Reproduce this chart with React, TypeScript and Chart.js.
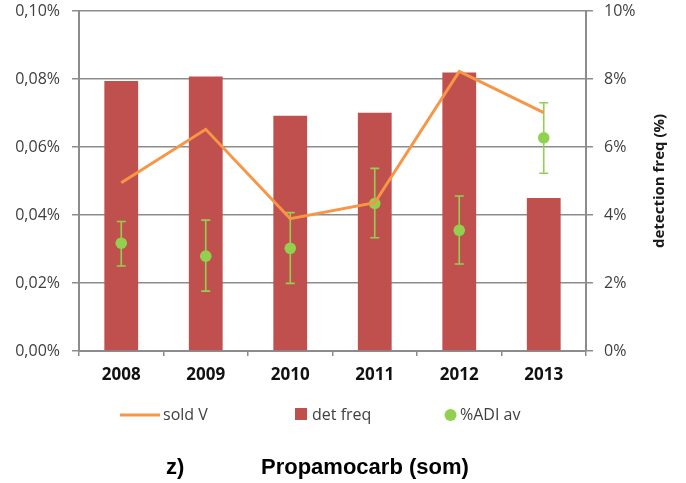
import React, { useEffect, useRef } from "react";
import { Chart, registerables } from "chart.js";

Chart.register(...registerables);

// Years on the category axis
const years = ["2008", "2009", "2010", "2011", "2012", "2013"];
// Sold volume, percent (left axis)
const soldV = [0.0495, 0.0652, 0.0389, 0.0436, 0.0822, 0.0701];
// Detection frequency, percent (right axis)
const detFreq = [7.94, 8.07, 6.92, 7.01, 8.19, 4.5];
// Average %ADI with its low/high range (left axis)
const adiAv = [0.0317, 0.0279, 0.0302, 0.0434, 0.0355, 0.0627];
const adiLow = [0.025, 0.0176, 0.0199, 0.0333, 0.0256, 0.0523];
const adiHigh = [0.0381, 0.0385, 0.0407, 0.0537, 0.0456, 0.073];

const ORANGE = "#F79646";
const RED = "#C0504D";
const GREEN = "#92D050";
const GRID = "#8c8c8c";
const FONT = "'Open Sans', sans-serif";

const errorBars = {
  id: "errorBars",
  beforeDatasetDraw(chart: any, args: any) {
    if (args.index !== 2) return;
    const meta = chart.getDatasetMeta(2);
    const y = chart.scales.y;
    const ctx = chart.ctx;
    ctx.save();
    ctx.strokeStyle = GREEN;
    ctx.lineWidth = 1.6;
    meta.data.forEach((pt: any, i: number) => {
      const x = pt.x;
      const yl = y.getPixelForValue(adiLow[i]);
      const yh = y.getPixelForValue(adiHigh[i]);
      ctx.beginPath();
      ctx.moveTo(x, yl);
      ctx.lineTo(x, yh);
      ctx.moveTo(x - 4.5, yl);
      ctx.lineTo(x + 4.5, yl);
      ctx.moveTo(x - 4.5, yh);
      ctx.lineTo(x + 4.5, yh);
      ctx.stroke();
    });
    ctx.restore();
  },
};

const decorations = {
  id: "decorations",
  afterDraw(chart: any) {
    const ctx = chart.ctx;
    const ds = chart.data.datasets;
    const area = chart.chartArea;
    ctx.save();

    // right axis title
    ctx.save();
    ctx.translate(660, (area.top + area.bottom) / 2);
    ctx.rotate(-Math.PI / 2);
    ctx.font = `bold 15px ${FONT}`;
    ctx.fillStyle = "#1a1a1a";
    ctx.textAlign = "center";
    ctx.textBaseline = "middle";
    ctx.fillText("detection freq (%)", 0, 0);
    ctx.restore();

    // legend
    const ly = 415;
    ctx.font = `16px ${FONT}`;
    ctx.fillStyle = "#404040";
    ctx.textBaseline = "middle";
    ctx.textAlign = "left";

    ctx.strokeStyle = ds[0].borderColor;
    ctx.lineWidth = 3;
    ctx.beginPath();
    ctx.moveTo(120, ly);
    ctx.lineTo(160, ly);
    ctx.stroke();
    ctx.fillText(ds[0].label, 163, ly);

    ctx.fillStyle = ds[1].backgroundColor;
    ctx.fillRect(295, 408, 12, 12);
    ctx.fillStyle = "#404040";
    ctx.fillText(ds[1].label, 312, ly);

    ctx.fillStyle = ds[2].backgroundColor;
    ctx.beginPath();
    ctx.arc(450.5, ly, 6, 0, Math.PI * 2);
    ctx.fill();
    ctx.fillStyle = "#404040";
    ctx.fillText(ds[2].label, 460, ly);

    // caption
    ctx.font = "bold 22px 'Liberation Sans', Arial, sans-serif";
    ctx.fillStyle = "#000";
    ctx.textBaseline = "alphabetic";
    ctx.fillText("z)", 166, 474);
    ctx.fillText("Propamocarb (som)", 261, 474);

    ctx.restore();
  },
};

export default function App() {
  const ref = useRef<HTMLCanvasElement | null>(null);

  useEffect(() => {
    if (!ref.current) return;
    const chart = new Chart(ref.current, {
      type: "bar",
      data: {
        labels: years,
        datasets: [
          {
            type: "line",
            label: "sold V",
            data: soldV,
            yAxisID: "y",
            borderColor: ORANGE,
            backgroundColor: ORANGE,
            borderWidth: 3,
            pointRadius: 0,
            tension: 0,
            order: 1,
          },
          {
            type: "bar",
            label: "det freq",
            data: detFreq,
            yAxisID: "y1",
            backgroundColor: RED,
            borderWidth: 0,
            barPercentage: 0.4,
            categoryPercentage: 1,
            order: 3,
          },
          {
            type: "line",
            label: "%ADI av",
            data: adiAv,
            yAxisID: "y",
            showLine: false,
            backgroundColor: GREEN,
            borderColor: GREEN,
            pointRadius: 5.8,
            pointBorderWidth: 0,
            order: 2,
          },
        ] as any,
      },
      options: {
        responsive: false,
        animation: false,
        layout: { padding: { top: 11, left: 0, right: 0, bottom: 0 } },
        plugins: {
          legend: { display: false },
          tooltip: { enabled: false },
        },
        scales: {
          x: {
            offset: true,
            grid: {
              offset: true,
              drawOnChartArea: false,
              drawTicks: true,
              tickLength: 5,
              color: GRID,
              lineWidth: 1.5,
            },
            border: { color: GRID, width: 2 },
            ticks: {
              color: "#111",
              font: { family: FONT, size: 17, weight: "bold" },
              padding: 9,
              maxRotation: 0,
            },
            afterFit(scale: any) {
              scale.height = 132;
              scale.paddingLeft = 0;
              scale.paddingRight = 0;
            },
          },
          y: {
            position: "left",
            min: 0,
            max: 0.1,
            grid: {
              color: GRID,
              lineWidth: 1.5,
              tickLength: 7,
            },
            border: { color: GRID, width: 2 },
            ticks: {
              stepSize: 0.02,
              padding: 12,
              color: "#404040",
              font: { family: FONT, size: 16 },
              callback: (v: any) => Number(v).toFixed(2).replace(".", ",") + "%",
            },
            afterFit(scale: any) {
              scale.width = 79;
              scale.paddingTop = 0;
              scale.paddingBottom = 0;
            },
          },
          y1: {
            position: "right",
            min: 0,
            max: 10,
            grid: {
              drawOnChartArea: false,
              color: GRID,
              lineWidth: 1.5,
              tickLength: 7,
            },
            border: { color: GRID, width: 2 },
            ticks: {
              stepSize: 2,
              padding: 11,
              color: "#404040",
              font: { family: FONT, size: 16 },
              callback: (v: any) => `${v}%`,
            },
            afterFit(scale: any) {
              scale.width = 100;
              scale.paddingTop = 0;
              scale.paddingBottom = 0;
            },
          },
        },
      },
      plugins: [errorBars, decorations],
    });
    return () => chart.destroy();
  }, []);

  return (
    <div style={{ position: "absolute", left: 0, top: 0, width: 686, height: 483, background: "#fff" }}>
      <canvas ref={ref} width={686} height={483} />
    </div>
  );
}
